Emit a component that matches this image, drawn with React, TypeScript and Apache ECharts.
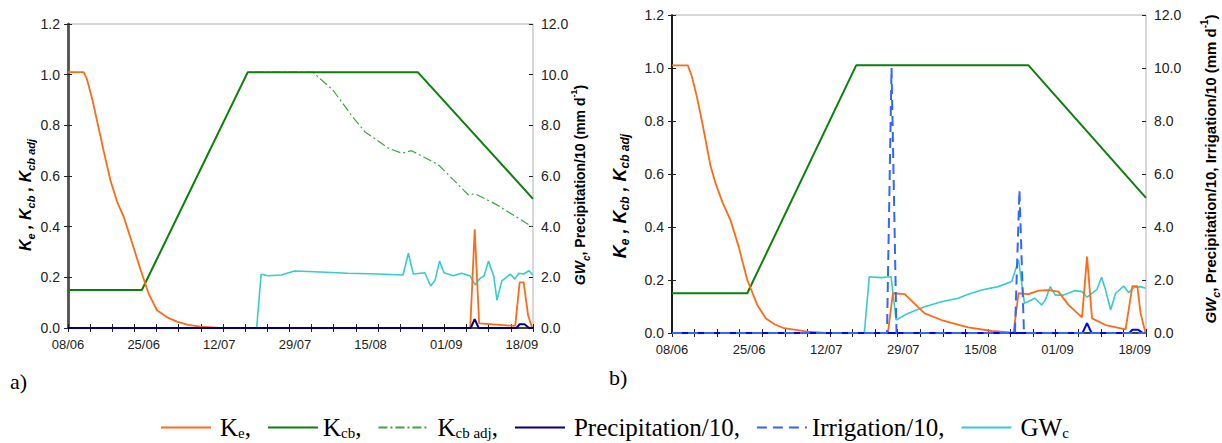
import React, { useEffect, useRef } from "react";
import * as echarts from "echarts";

// ---- tick labels ----
const DATE_LABELS = ["08/06", "25/06", "12/07", "29/07", "15/08", "01/09", "18/09"];
const LABEL_STEP = 17; // days between date labels
const X_MAX = 104.5; // days after 08/06
const X_TICKS = 21; // number of minor tick intervals

// ---- panel a) series: [day since 08/06, value] ----
const keA: number[][] = [
  [0, 1.01], [3.5, 1.01], [4.2, 0.985], [4.6, 0.96], [5.5, 0.9], [6.5, 0.82], [8, 0.7],
  [9.5, 0.585], [11, 0.5], [12.5, 0.44], [13.6, 0.38], [14.7, 0.32], [16.3, 0.23],
  [18.1, 0.137], [20, 0.07], [22.3, 0.042], [24.5, 0.025], [27, 0.012], [29.8, 0.005],
  [34, 0], [90.4, 0], [91.4, 0.39], [92.4, 0.018], [100.5, 0.008], [101.5, 0.18],
  [102.4, 0.18], [103.4, 0.05], [104.3, 0],
];
const kcbA: number[][] = [[0, 0.15], [16.6, 0.15], [40.4, 1.01], [78.6, 1.01], [104.5, 0.51]];
const kcbAdjA: number[][] = [
  [0, 0.15], [16.6, 0.15], [40.4, 1.01], [55, 1.01], [59.5, 0.94], [64.1, 0.83], [66.7, 0.775],
  [72, 0.71], [75, 0.69], [77.2, 0.7], [83.2, 0.645], [90, 0.525], [91.5, 0.53], [96, 0.49],
  [104.3, 0.4],
];
const precipA: number[][] = [
  [0, 0], [90.5, 0], [91.4, 0.35], [92.3, 0], [100.8, 0], [101.5, 0.15], [102.6, 0.15],
  [103.6, 0], [104.5, 0],
];
const gwA: number[][] = [
  [0, 0], [42.4, 0], [43.4, 2.12], [45, 2.06], [47.9, 2.09], [50.9, 2.25], [55.4, 2.22],
  [62.9, 2.16], [69.7, 2.13], [75.3, 2.09], [76.5, 2.95], [77.6, 2.13], [80.2, 2.18],
  [81.5, 1.66], [82.5, 1.89], [83.5, 2.64], [84.5, 2.18], [86.6, 2.06], [88.5, 2.16],
  [90.4, 2.05], [91.5, 1.7], [92.6, 1.96], [93.5, 2.05], [94.5, 2.64], [95.7, 2.03],
  [96.4, 1.1], [97.5, 1.86], [99.4, 2.13], [100.4, 1.93], [101.3, 2.16], [102.4, 2.13],
  [103.6, 2.26], [104.5, 2.09],
];

// ---- panel b) series ----
const keB: number[][] = [
  [0, 1.01], [3.5, 1.01], [4.4, 0.967], [5.5, 0.89], [6.6, 0.8], [8.5, 0.63], [9.6, 0.565],
  [11.2, 0.49], [12.9, 0.426], [14.7, 0.326], [16.6, 0.2], [18.8, 0.106], [20.7, 0.055],
  [22.7, 0.032], [24.7, 0.018], [29.9, 0.005], [34, 0], [47.6, 0], [48.7, 0.15],
  [51.3, 0.147], [55.7, 0.074], [59.4, 0.049], [65.3, 0.021], [70.5, 0.0075], [75.3, 0.001],
  [76.4, 0.15], [78.6, 0.147], [80.8, 0.16], [83, 0.162], [85.2, 0.156], [87.4, 0.106],
  [90.4, 0.059], [91.5, 0.288], [92.6, 0.055], [95.6, 0.03], [100, 0.014], [101.5, 0.177],
  [102.6, 0.177], [103.3, 0.074], [104.4, 0],
];
const kcbB: number[][] = [[0, 0.15], [16.6, 0.15], [40.6, 1.01], [78.6, 1.01], [104.5, 0.51]];
const precipB: number[][] = [
  [0, 0], [90.5, 0], [91.5, 0.37], [92.5, 0], [100.8, 0], [101.5, 0.12], [102.8, 0.12],
  [103.8, 0], [104.5, 0],
];
const irrB: number[][] = [
  [0, 0], [47.4, 0], [48.4, 10.0], [49.5, 0], [75.6, 0], [76.6, 5.4], [77.6, 0], [104.5, 0],
];
const gwB: number[][] = [
  [0, 0], [42.4, 0], [43.5, 2.12], [46.1, 2.09], [48.3, 2.12], [49.4, 0.49], [52, 0.74],
  [55.7, 0.99], [59.4, 1.18], [63.1, 1.31], [65.3, 1.46], [68.3, 1.62], [71.9, 1.75],
  [74.9, 1.94], [76.4, 2.75], [77.7, 1.12], [80, 1.31], [81.5, 1.06], [82.3, 1.25],
  [83.4, 1.75], [84.5, 1.43], [86.3, 1.43], [88.9, 1.6], [90.4, 1.56], [91.5, 1.35],
  [93.7, 1.65], [94.7, 2.1], [95.6, 1.62], [96.7, 0.87], [97.8, 1.5], [99.6, 1.77],
  [100.7, 1.52], [101.8, 1.72], [103.3, 1.75], [104.4, 1.69],
];

const LEGEND_NAMES = ["Ke", "Kcb", "Kcb adj", "Precipitation/10", "Irrigation/10", "GWc"];
const LEGEND_RICH: Record<string, string> = {
  Ke: "{p|K}{s|e}{t|,}",
  Kcb: "{t|K}{s|cb}{t|,}",
  "Kcb adj": "{p|K}{s|cb adj}{t|,}",
  "Precipitation/10": "{p|Precipitation/10,}",
  "Irrigation/10": "{t|Irrigation/10,}",
  GWc: "{p|GW}{s|c}",
};

const C_KE = "#ff6a16";
const C_KCB = "#0c800c";
const C_KCBADJ = "#3fa63f";
const C_PRE = "#000080";
const C_PRE_B = "#0000ff";
const C_IRR = "#3366ff";
const C_GW = "#36cccc";

const SANS = "'Liberation Sans', Arial, sans-serif";
const SERIF = "'Liberation Serif', 'Times New Roman', serif";

function titleRich(k: number, s: number, b: number) {
  return {
    k: { fontSize: k, fontWeight: "bold", fontStyle: "italic", fontFamily: SANS, fill: "#000", lineHeight: 22 },
    ks: { fontSize: s, fontWeight: "bold", fontStyle: "italic", fontFamily: SANS, fill: "#000", lineHeight: 12, verticalAlign: "bottom" },
    b: { fontSize: b, fontWeight: "bold", fontFamily: SANS, fill: "#000", lineHeight: 22 },
    bi: { fontSize: b, fontWeight: "bold", fontStyle: "italic", fontFamily: SANS, fill: "#000", lineHeight: 22 },
    sup: { fontSize: s - 1, fontWeight: "bold", fontFamily: SANS, fill: "#000", lineHeight: 12, verticalAlign: "top" },
  };
}

function buildGrid(gi: number, axisColor: string, axisWidth: number) {
  const xLabel = {
    gridIndex: gi, type: "value", min: 0, max: X_MAX, interval: LABEL_STEP,
    axisLine: { show: true, onZero: false, lineStyle: { color: "#111", width: 1.5 } },
    axisTick: { show: false },
    splitLine: { show: false },
    axisLabel: {
      fontSize: 13, color: "#222", fontFamily: SANS, margin: 10,
      formatter: (v: number) => (Math.abs(v % LABEL_STEP) < 1e-6 ? DATE_LABELS[Math.round(v / LABEL_STEP)] ?? "" : ""),
    },
  };
  const xTick = (inside: boolean) => ({
    gridIndex: gi, type: "value", min: 0, max: X_MAX, interval: X_MAX / X_TICKS,
    axisLine: { show: false },
    axisTick: { show: true, inside, length: 4, lineStyle: { color: "#222", width: 1 } },
    axisLabel: { show: false },
    splitLine: { show: false },
  });
  const yMain = (pos: string, max: number, interval: number) => ({
    gridIndex: gi, type: "value", position: pos, min: 0, max, interval,
    axisLine: { show: true, lineStyle: { color: axisColor, width: axisWidth } },
    axisTick: { show: true, length: 4, lineStyle: { color: "#222", width: 1 } },
    splitLine: { show: false },
    axisLabel: { fontSize: 14, color: "#222", fontFamily: SANS, margin: 8, formatter: (v: number) => v.toFixed(1) },
  });
  const yTick = (pos: string, max: number, interval: number) => ({
    gridIndex: gi, type: "value", position: pos, min: 0, max, interval,
    axisLine: { show: false },
    axisTick: { show: true, inside: true, length: 4, lineStyle: { color: "#222", width: 1 } },
    axisLabel: { show: false },
    splitLine: { show: false },
  });
  return {
    x: [xLabel, xTick(false), xTick(true)],
    y: [yMain("left", 1.2, 0.2), yMain("right", 12, 2), yTick("left", 1.2, 0.2), yTick("right", 12, 2)],
  };
}

function line(name: string, data: number[][], color: string, width: number, xi: number, yi: number, type: any = "solid") {
  return {
    name, type: "line", data, xAxisIndex: xi, yAxisIndex: yi,
    showSymbol: false, symbol: "none", smooth: false,
    lineStyle: { color, width, type },
    itemStyle: { color },
    emphasis: { disabled: true },
  };
}

function vTitle(x: number, y: number, text: string, rich: any) {
  return {
    type: "text", x, y, rotation: Math.PI / 2,
    style: { text, rich, align: "center", verticalAlign: "middle" },
  };
}

const LEFT_TITLE = "{k|K}{ks|e}{k| , K}{ks|cb}{k| , K}{ks|cb adj}";

export default function App() {
  const ref = useRef<HTMLDivElement>(null);
  useEffect(() => {
    if (!ref.current) return;
    const chart = echarts.init(ref.current, null, { renderer: "svg" });
    const gA = buildGrid(0, "#555", 2.5);
    const gB = buildGrid(1, "#111", 1.5);
    const option: any = {
      animation: false,
      backgroundColor: "#fff",
      grid: [
        { left: 68, top: 24, width: 465, height: 304, show: true, borderColor: "#b0b0b0", borderWidth: 1 },
        { left: 672, top: 15, width: 474, height: 318, show: true, borderColor: "#b0b0b0", borderWidth: 1 },
      ],
      xAxis: [...gA.x, ...gB.x],
      yAxis: [...gA.y, ...gB.y],
      legend: {
        data: LEGEND_NAMES,
        left: 160, top: 415, padding: 0,
        itemWidth: 50, itemHeight: 14, itemGap: 16,
        selectedMode: false,
        itemStyle: { opacity: 0 },
        formatter: (n: string) => LEGEND_RICH[n] ?? n,
        textStyle: {
          rich: {
            t: { fontSize: 25, fontFamily: SERIF, color: "#000", lineHeight: 26 },
            p: { fontSize: 25, fontFamily: SERIF, color: "#000", lineHeight: 26, padding: [0, 0, 0, 4] },
            s: { fontSize: 15, fontFamily: SERIF, color: "#000", lineHeight: 12, verticalAlign: "bottom" },
          },
        },
      },
      graphic: [
        { type: "text", left: 10, top: 370, style: { text: "a)", font: `22px ${SERIF}`, fill: "#000" } },
        { type: "text", left: 609, top: 366, style: { text: "b)", font: `22px ${SERIF}`, fill: "#000" } },
        vTitle(25, 195, LEFT_TITLE, titleRich(16, 11, 14)),
        vTitle(580, 185, "{bi|GW}{ks|c}{b|, Precipitation/10 (mm d}{sup|-1}{b|)}", titleRich(16, 10, 14)),
        vTitle(620, 196, LEFT_TITLE, titleRich(18, 12, 15)),
        vTitle(1210, 169, "{bi|GW}{ks|c}{b|, Precipitation/10, Irrigation/10 (mm d}{sup|-1}{b|)}", titleRich(16, 11, 15)),
      ],
      series: [
        line("Kcb adj", kcbAdjA, C_KCBADJ, 1.2, 0, 0, [9, 3, 2, 3]),
        line("Kcb", kcbA, C_KCB, 2, 0, 0),
        line("GWc", gwA, C_GW, 1.6, 0, 1),
        line("Ke", keA, C_KE, 1.8, 0, 0),
        line("Precipitation/10", precipA, C_PRE, 2, 0, 1),
        line("Kcb", kcbB, C_KCB, 2, 3, 4),
        line("GWc", gwB, C_GW, 1.6, 3, 5),
        line("Ke", keB, C_KE, 1.8, 3, 4),
        line("Precipitation/10", precipB, C_PRE_B, 2, 3, 5),
        line("Irrigation/10", irrB, C_IRR, 2, 3, 5, [10, 6]),
      ],
    };
    chart.setOption(option);
    return () => chart.dispose();
  }, []);
  return (
    <div
      ref={ref}
      style={{ position: "absolute", left: 0, top: 0, width: 1222, height: 443, background: "#fff" }}
    />
  );
}
